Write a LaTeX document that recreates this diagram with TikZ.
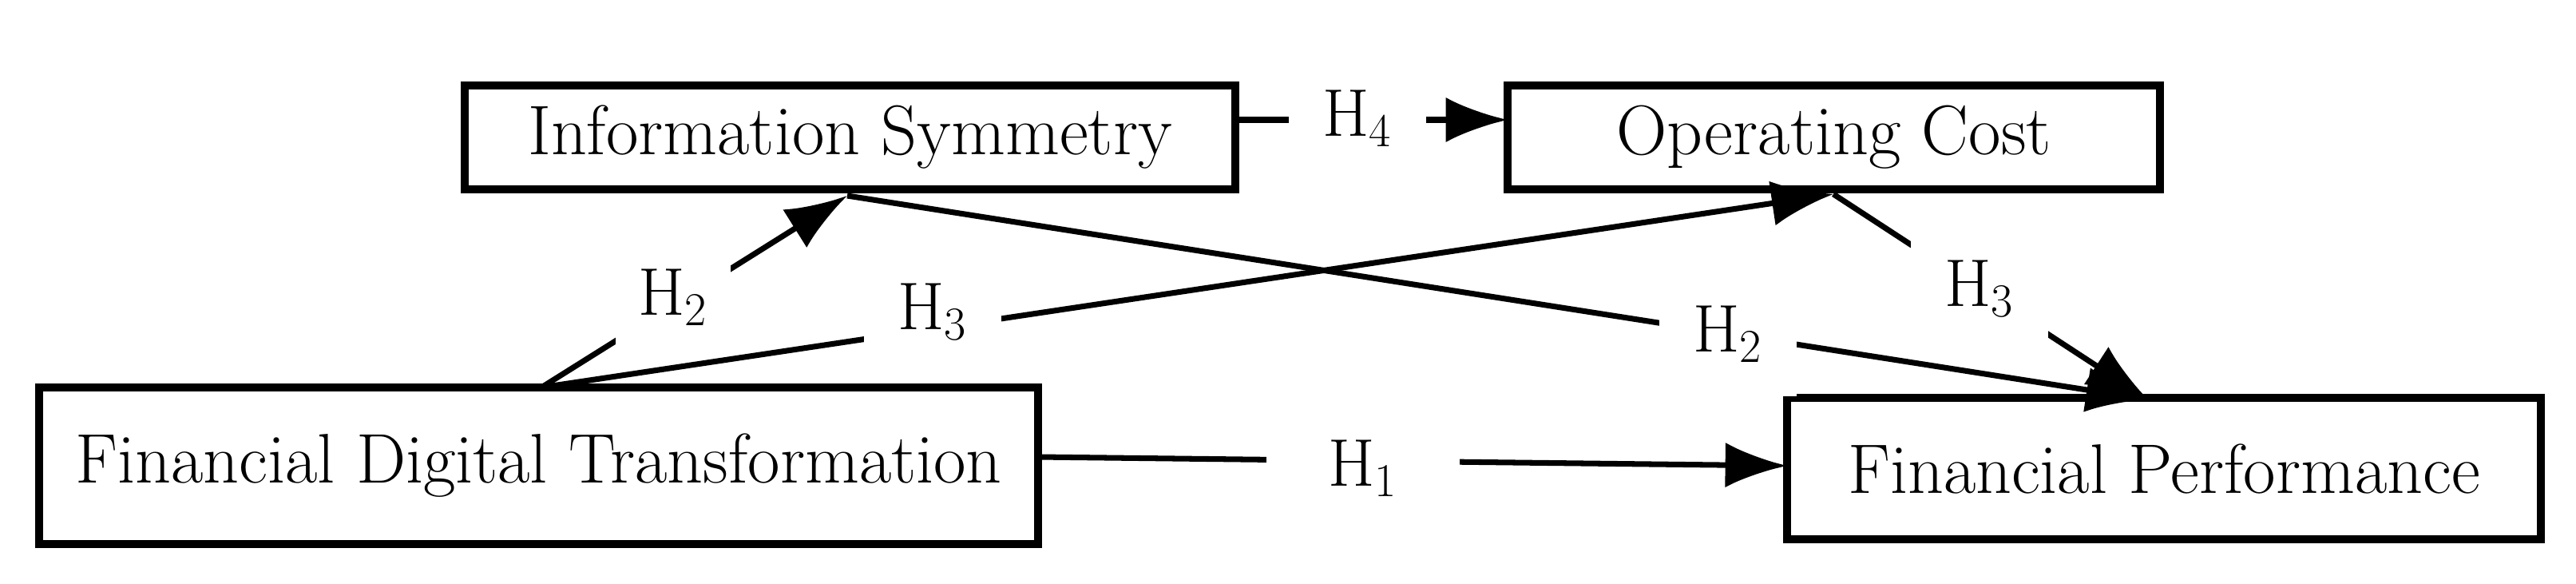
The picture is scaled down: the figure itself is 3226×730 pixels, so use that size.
\documentclass[tikz,border=0pt]{standalone}
\usetikzlibrary{arrows.meta}
\begin{document}
\begin{tikzpicture}[x=0.01cm,y=-0.01cm,
 box/.style={draw,line width=2.6pt,inner sep=0pt,font=\fontsize{25}{29}\selectfont},
 lab/.style={fill=white,inner sep=12pt,font=\fontsize{24}{28}\selectfont},
 arr/.style={line width=2pt,-{Latex[length=22pt,width=16pt]}}]
\useasboundingbox (0,0) rectangle (3226,730);
\draw[box] (582,107) rectangle (1547,237) node[midway,draw=none] (is) {Information Symmetry};
\draw[box] (1888,107) rectangle (2705,237) node[midway,draw=none] (oc) {Operating Cost};
\draw[box] (49,485) rectangle (1300,681) node[midway,draw=none] (fdt) {Financial Digital Transformation};
\draw[box] (2238,498) rectangle (3182,675) node[midway,draw=none] (fp) {Financial Performance};
\coordinate (isR) at (1547,150); \coordinate (ocL) at (1888,150);
\coordinate (isB) at (1061,245); \coordinate (ocB) at (2296,243);
\coordinate (fdtT) at (678,485); \coordinate (fpT) at (2690,500);
\coordinate (fdtR) at (1300,572); \coordinate (fpL) at (2238,583);
\draw[arr] (fdtT) -- (isB);
\draw[arr] (isB) -- (fpT);
\draw[arr] (ocB) -- (fpT);
\draw[arr] (isR) -- (ocL);
\draw[arr] (fdtR) -- (fpL);
\node[lab] (l4) at (1700,148) {H\textsubscript{4}};
\node[lab,inner sep=8pt] (l2a) at (843,372) {H\textsubscript{2}};
\draw[arr] (fdtT) -- (ocB);
\node[lab] (l3a) at (1168,391) {H\textsubscript{3}};
\node[lab] (l2b) at (2164,418) {H\textsubscript{2}};
\node[lab] (l3b) at (2479,362) {H\textsubscript{3}};
\node[lab,inner xsep=22pt] (l1) at (1707,586) {H\textsubscript{1}};
\end{tikzpicture}
\end{document}
